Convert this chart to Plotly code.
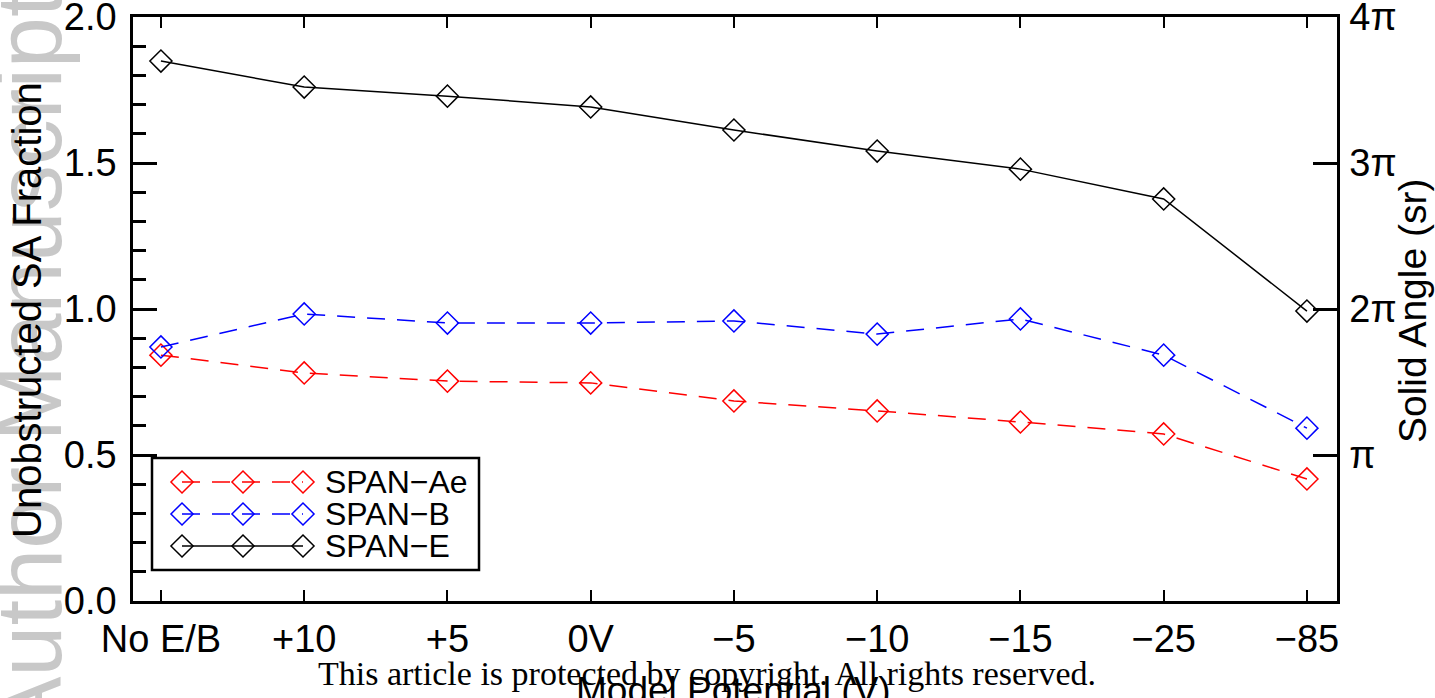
import math
import plotly.graph_objects as go

# Model potential cases along the x axis
categories = ["No E/B", "+10", "+5", "0V", "\u22125", "\u221210", "\u221215", "\u221225", "\u221285"]

# Unobstructed solid-angle fraction for each instrument
span_ae = [0.842, 0.781, 0.753, 0.747, 0.685, 0.651, 0.613, 0.572, 0.418]
span_b = [0.870, 0.983, 0.952, 0.952, 0.959, 0.914, 0.966, 0.842, 0.592]
span_e = [1.849, 1.760, 1.729, 1.692, 1.613, 1.541, 1.479, 1.377, 0.993]

series_names = ["SPAN\u2212Ae", "SPAN\u2212B", "SPAN\u2212E"]
series_colors = ["#ff0000", "#0000ff", "#000000"]
series_dash = ["18px,12px", "18px,12px", "solid"]

y_ticks = [0.0, 0.5, 1.0, 1.5, 2.0]
y_ticktext = ["0.0", "0.5", "1.0", "1.5", "2.0"]
sa_ticks = [math.pi, 2 * math.pi, 3 * math.pi, 4 * math.pi]
sa_ticktext = ["\u03c0", "2\u03c0", "3\u03c0", "4\u03c0"]

W, H = 1435, 698
ML, MR, MT, MB = 133, 98, 17, 97
PW, PH = W - ML - MR, H - MT - MB
FONT = "Liberation Sans, Arial, Helvetica, sans-serif"


def px_x(px):
    return (px - ML) / PW


def px_y(py):
    return (H - MB - py) / PH


x_idx = list(range(len(categories)))
fig = go.Figure()

for name, vals, col, dash in zip(series_names, [span_ae, span_b, span_e], series_colors, series_dash):
    fig.add_trace(go.Scatter(
        x=x_idx, y=vals, mode="lines+markers", name=name, showlegend=False,
        line=dict(color=col, width=1.5, dash=dash),
        marker=dict(symbol="diamond-open", size=17, color=col, line=dict(width=1.5, color=col)),
        xaxis="x", yaxis="y",
    ))

# Empty trace so the solid-angle axis is rendered
fig.add_trace(go.Scatter(x=[None], y=[None], xaxis="x", yaxis="y2", showlegend=False, hoverinfo="skip"))

# Legend samples drawn on an overlay axis pair in pixel units
legend_rows = [482, 514, 546]
legend_marks = [182, 243, 303]
for name, col, dash, ry in zip(series_names, series_colors, series_dash, legend_rows):
    fig.add_trace(go.Scatter(
        x=legend_marks, y=[ry] * 3, mode="lines+markers", showlegend=False,
        line=dict(color=col, width=1.5, dash=dash),
        marker=dict(symbol="diamond-open", size=17, color=col, line=dict(width=1.5, color=col)),
        xaxis="x3", yaxis="y3", hoverinfo="skip",
    ))

fig.update_layout(
    width=W, height=H,
    margin=dict(l=ML, r=MR, t=MT, b=MB, autoexpand=False),
    paper_bgcolor="white", plot_bgcolor="rgba(0,0,0,0)",
    font=dict(family=FONT, size=38, color="black"),
    xaxis=dict(
        range=[-0.195, 8.21], tickvals=x_idx, ticktext=categories,
        showline=True, linewidth=2.5, linecolor="black", mirror="ticks",
        ticks="inside", ticklen=11, tickwidth=2, tickcolor="black",
        showgrid=False, zeroline=False, tickfont=dict(size=38),
        ticklabelstandoff=3, ticklabeloverflow="allow", automargin=False,
    ),
    yaxis=dict(
        range=[0, 2], tickvals=y_ticks, ticktext=y_ticktext,
        showline=True, linewidth=2.5, linecolor="black",
        ticks="inside", ticklen=24, tickwidth=2.5, tickcolor="black",
        minor=dict(dtick=0.1, ticks="inside", ticklen=13, tickwidth=2.5, tickcolor="black"),
        showgrid=False, zeroline=False, tickfont=dict(size=38),
        ticklabelstandoff=6, ticklabeloverflow="allow", automargin=False,
    ),
    yaxis2=dict(
        range=[0, 4 * math.pi], overlaying="y", side="right", anchor="x",
        tickvals=sa_ticks, ticktext=sa_ticktext,
        showline=True, linewidth=2.5, linecolor="black",
        ticks="inside", ticklen=24, tickwidth=2.5, tickcolor="black",
        showgrid=False, zeroline=False, tickfont=dict(size=38),
        ticklabelstandoff=2, ticklabeloverflow="allow", automargin=False,
    ),
    xaxis3=dict(overlaying="x", range=[ML, ML + PW], visible=False, anchor="y3", automargin=False),
    yaxis3=dict(overlaying="y", range=[H - MB, MT], visible=False, anchor="x3", automargin=False),
    showlegend=False,
)

# Legend frame and labels
fig.add_shape(type="rect", xref="paper", yref="paper",
              x0=px_x(152), x1=px_x(479), y0=px_y(570), y1=px_y(458),
              line=dict(color="black", width=2.5), fillcolor="white", layer="below")
for name, ry in zip(series_names, legend_rows):
    fig.add_annotation(x=px_x(323), y=px_y(ry), xref="paper", yref="paper",
                       text=name, showarrow=False, xanchor="left", yanchor="middle",
                       font=dict(size=32, family=FONT, color="black"))

# Repository watermark along the left edge
fig.add_annotation(x=px_x(29), y=px_y(365), xref="paper", yref="paper",
                   text="Author Manuscript", textangle=-90, showarrow=False,
                   xanchor="center", yanchor="middle",
                   font=dict(size=92, family=FONT, color="#c8c8c8"))

# Axis titles
fig.add_annotation(x=px_x(27), y=px_y(310), xref="paper", yref="paper",
                   text="Unobstructed SA Fraction", textangle=-90, showarrow=False,
                   xanchor="center", yanchor="middle", font=dict(size=40, family=FONT))
fig.add_annotation(x=px_x(1412), y=px_y(311), xref="paper", yref="paper",
                   text="Solid Angle (sr)", textangle=-90, showarrow=False,
                   xanchor="center", yanchor="middle", font=dict(size=39, family=FONT))
fig.add_annotation(x=px_x(733), y=px_y(690), xref="paper", yref="paper",
                   text="Model Potential (V)", showarrow=False,
                   xanchor="center", yanchor="middle", font=dict(size=37, family=FONT))

# Copyright footer
fig.add_annotation(x=px_x(707), y=px_y(673), xref="paper", yref="paper",
                   text="This article is protected by copyright. All rights reserved.",
                   showarrow=False, xanchor="center", yanchor="middle",
                   font=dict(size=34, family="Liberation Serif, DejaVu Serif, serif", color="black"))

fig.write_html("out.html")
